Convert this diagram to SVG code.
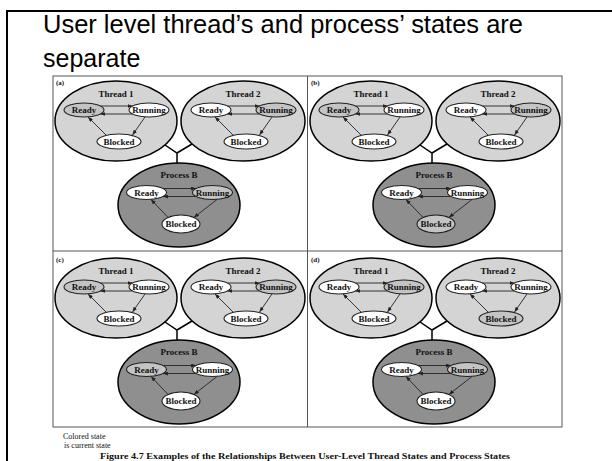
<svg xmlns="http://www.w3.org/2000/svg" width="612" height="461" viewBox="0 0 612 461">
<defs>
<marker id="ah" markerUnits="userSpaceOnUse" markerWidth="5" markerHeight="4" refX="5" refY="2" orient="auto"><path d="M0,0 L5,2 L0,4 z" fill="#222"/></marker>
<style>
.thread{fill:#d4d4d4;stroke:#000;stroke-width:1.5}
.proc{fill:#8f8f8f;stroke:#000;stroke-width:1.5}
.st{fill:#fff;stroke:#222;stroke-width:1.1}
.cur{fill:#c4c4c4;stroke:#222;stroke-width:1.1}
.lbl{font-family:"Liberation Serif","Times New Roman",serif;font-weight:bold;font-size:9px;text-anchor:middle;fill:#111}
.ttl{font-family:"Liberation Serif","Times New Roman",serif;font-weight:bold;font-size:9px;text-anchor:middle;fill:#111}
.pl{font-family:"Liberation Serif","Times New Roman",serif;font-weight:bold;font-size:7px;fill:#111}
.arr{stroke:#222;stroke-width:0.9;fill:none;marker-end:url(#ah)}
.link{stroke:#000;stroke-width:1.5;fill:none}
.title{font-family:"Liberation Sans",Arial,sans-serif;font-size:25px;fill:#000}
.cap{font-family:"Liberation Serif","Times New Roman",serif;font-size:8px;fill:#111}
.capb{font-family:"Liberation Serif","Times New Roman",serif;font-size:9px;font-weight:bold;fill:#111}
</style>
</defs>
<rect width="612" height="461" fill="#fff"/>
<path d="M7,461 V11 H612" fill="none" stroke="#000" stroke-width="2"/>
<text class="title" x="43" y="33" textLength="480" lengthAdjust="spacingAndGlyphs">User level thread’s and process’ states are</text>
<text class="title" x="43" y="67">separate</text>
<g id="frame" fill="none" stroke="#555" stroke-width="1">
<rect x="53" y="76" width="509" height="351" fill="#fff"/>
<path d="M307.5,76 V427 M53,251 H562"/>
</g>

<!-- Panel (a) -->
<g id="panel-a">
<text class="pl" x="56" y="85">(a)</text>
<g id="a-thread1"><ellipse class="thread" cx="116" cy="121" rx="61" ry="40"/><text class="ttl" x="116" y="97">Thread 1</text>
<ellipse class="cur" cx="84" cy="110" rx="20" ry="7"/><text class="lbl" x="84" y="113">Ready</text>
<ellipse class="st" cx="149" cy="110" rx="20" ry="7"/><text class="lbl" x="149" y="113">Running</text>
<ellipse class="st" cx="119" cy="141.5" rx="22" ry="7.5"/><text class="lbl" x="119" y="144.5">Blocked</text></g>
<g id="a-thread2"><ellipse class="thread" cx="243" cy="121" rx="62" ry="40"/><text class="ttl" x="243" y="97">Thread 2</text>
<ellipse class="st" cx="211" cy="110" rx="20" ry="7"/><text class="lbl" x="211" y="113">Ready</text>
<ellipse class="cur" cx="276" cy="110" rx="20" ry="7"/><text class="lbl" x="276" y="113">Running</text>
<ellipse class="st" cx="246" cy="141.5" rx="22" ry="7.5"/><text class="lbl" x="246" y="144.5">Blocked</text></g>
<g id="a-process"><ellipse class="proc" cx="179" cy="205" rx="61" ry="42"/><text class="ttl" x="179" y="178">Process B</text>
<ellipse class="st" cx="146.5" cy="192.5" rx="20" ry="7"/><text class="lbl" x="146.5" y="195.5">Ready</text>
<ellipse class="cur" cx="212.5" cy="192.5" rx="20" ry="7"/><text class="lbl" x="212.5" y="195.5">Running</text>
<ellipse class="st" cx="181" cy="224" rx="19" ry="9"/><text class="lbl" x="181" y="227">Blocked</text></g>
</g>

<!-- Panel (b) -->
<g id="panel-b" transform="translate(255,0)">
<text class="pl" x="56" y="85">(b)</text>
<g id="b-thread1"><ellipse class="thread" cx="116" cy="121" rx="61" ry="40"/><text class="ttl" x="116" y="97">Thread 1</text>
<ellipse class="cur" cx="84" cy="110" rx="20" ry="7"/><text class="lbl" x="84" y="113">Ready</text>
<ellipse class="st" cx="149" cy="110" rx="20" ry="7"/><text class="lbl" x="149" y="113">Running</text>
<ellipse class="st" cx="119" cy="141.5" rx="22" ry="7.5"/><text class="lbl" x="119" y="144.5">Blocked</text></g>
<g id="b-thread2"><ellipse class="thread" cx="243" cy="121" rx="62" ry="40"/><text class="ttl" x="243" y="97">Thread 2</text>
<ellipse class="st" cx="211" cy="110" rx="20" ry="7"/><text class="lbl" x="211" y="113">Ready</text>
<ellipse class="cur" cx="276" cy="110" rx="20" ry="7"/><text class="lbl" x="276" y="113">Running</text>
<ellipse class="st" cx="246" cy="141.5" rx="22" ry="7.5"/><text class="lbl" x="246" y="144.5">Blocked</text></g>
<g id="b-process"><ellipse class="proc" cx="179" cy="205" rx="61" ry="42"/><text class="ttl" x="179" y="178">Process B</text>
<ellipse class="st" cx="146.5" cy="192.5" rx="20" ry="7"/><text class="lbl" x="146.5" y="195.5">Ready</text>
<ellipse class="st" cx="212.5" cy="192.5" rx="20" ry="7"/><text class="lbl" x="212.5" y="195.5">Running</text>
<ellipse class="cur" cx="181" cy="224" rx="19" ry="9"/><text class="lbl" x="181" y="227">Blocked</text></g>
</g>

<!-- Panel (c) -->
<g id="panel-c" transform="translate(0,177)">
<text class="pl" x="56" y="85">(c)</text>
<g id="c-thread1"><ellipse class="thread" cx="116" cy="121" rx="61" ry="40"/><text class="ttl" x="116" y="97">Thread 1</text>
<ellipse class="cur" cx="84" cy="110" rx="20" ry="7"/><text class="lbl" x="84" y="113">Ready</text>
<ellipse class="st" cx="149" cy="110" rx="20" ry="7"/><text class="lbl" x="149" y="113">Running</text>
<ellipse class="st" cx="119" cy="141.5" rx="22" ry="7.5"/><text class="lbl" x="119" y="144.5">Blocked</text></g>
<g id="c-thread2"><ellipse class="thread" cx="243" cy="121" rx="62" ry="40"/><text class="ttl" x="243" y="97">Thread 2</text>
<ellipse class="st" cx="211" cy="110" rx="20" ry="7"/><text class="lbl" x="211" y="113">Ready</text>
<ellipse class="cur" cx="276" cy="110" rx="20" ry="7"/><text class="lbl" x="276" y="113">Running</text>
<ellipse class="st" cx="246" cy="141.5" rx="22" ry="7.5"/><text class="lbl" x="246" y="144.5">Blocked</text></g>
<g id="c-process"><ellipse class="proc" cx="179" cy="205" rx="61" ry="42"/><text class="ttl" x="179" y="178">Process B</text>
<ellipse class="cur" cx="146.5" cy="192.5" rx="20" ry="7"/><text class="lbl" x="146.5" y="195.5">Ready</text>
<ellipse class="st" cx="212.5" cy="192.5" rx="20" ry="7"/><text class="lbl" x="212.5" y="195.5">Running</text>
<ellipse class="st" cx="181" cy="224" rx="19" ry="9"/><text class="lbl" x="181" y="227">Blocked</text></g>
</g>

<!-- Panel (d) -->
<g id="panel-d" transform="translate(255,177)">
<text class="pl" x="56" y="85">(d)</text>
<g id="d-thread1"><ellipse class="thread" cx="116" cy="121" rx="61" ry="40"/><text class="ttl" x="116" y="97">Thread 1</text>
<ellipse class="st" cx="84" cy="110" rx="20" ry="7"/><text class="lbl" x="84" y="113">Ready</text>
<ellipse class="cur" cx="149" cy="110" rx="20" ry="7"/><text class="lbl" x="149" y="113">Running</text>
<ellipse class="st" cx="119" cy="141.5" rx="22" ry="7.5"/><text class="lbl" x="119" y="144.5">Blocked</text></g>
<g id="d-thread2"><ellipse class="thread" cx="243" cy="121" rx="62" ry="40"/><text class="ttl" x="243" y="97">Thread 2</text>
<ellipse class="st" cx="211" cy="110" rx="20" ry="7"/><text class="lbl" x="211" y="113">Ready</text>
<ellipse class="st" cx="276" cy="110" rx="20" ry="7"/><text class="lbl" x="276" y="113">Running</text>
<ellipse class="cur" cx="246" cy="141.5" rx="22" ry="7.5"/><text class="lbl" x="246" y="144.5">Blocked</text></g>
<g id="d-process"><ellipse class="proc" cx="179" cy="205" rx="61" ry="42"/><text class="ttl" x="179" y="178">Process B</text>
<ellipse class="st" cx="146.5" cy="192.5" rx="20" ry="7"/><text class="lbl" x="146.5" y="195.5">Ready</text>
<ellipse class="cur" cx="212.5" cy="192.5" rx="20" ry="7"/><text class="lbl" x="212.5" y="195.5">Running</text>
<ellipse class="st" cx="181" cy="224" rx="19" ry="9"/><text class="lbl" x="181" y="227">Blocked</text></g>
</g>

<!-- Connectors -->
<g id="connectors">
<g id="conn-a">
<path class="link" d="M165,145 L177,153 L192,144 M177,153 L177,163"/>
<path class="arr" d="M100.4,106 L132.6,106"/><path class="arr" d="M132.6,114 L100.4,114"/>
<path class="arr" d="M145,117 L132.5,135"/><path class="arr" d="M106,135 L88,117"/>
<path class="arr" d="M227.4,106 L259.6,106"/><path class="arr" d="M259.6,114 L227.4,114"/>
<path class="arr" d="M272,117 L259.5,135"/><path class="arr" d="M233,135 L215,117"/>
<path class="arr" d="M162.9,188.5 L196.1,188.5"/><path class="arr" d="M196.1,196.5 L162.9,196.5"/>
<path class="arr" d="M217,199.5 L194,217.4"/><path class="arr" d="M168,217.4 L151,199.5"/>
</g>
<g id="conn-b" transform="translate(255,0)">
<path class="link" d="M165,145 L177,153 L192,144 M177,153 L177,163"/>
<path class="arr" d="M100.4,106 L132.6,106"/><path class="arr" d="M132.6,114 L100.4,114"/>
<path class="arr" d="M145,117 L132.5,135"/><path class="arr" d="M106,135 L88,117"/>
<path class="arr" d="M227.4,106 L259.6,106"/><path class="arr" d="M259.6,114 L227.4,114"/>
<path class="arr" d="M272,117 L259.5,135"/><path class="arr" d="M233,135 L215,117"/>
<path class="arr" d="M162.9,188.5 L196.1,188.5"/><path class="arr" d="M196.1,196.5 L162.9,196.5"/>
<path class="arr" d="M217,199.5 L194,217.4"/><path class="arr" d="M168,217.4 L151,199.5"/>
</g>
<g id="conn-c" transform="translate(0,177)">
<path class="link" d="M165,145 L177,153 L192,144 M177,153 L177,163"/>
<path class="arr" d="M100.4,106 L132.6,106"/><path class="arr" d="M132.6,114 L100.4,114"/>
<path class="arr" d="M145,117 L132.5,135"/><path class="arr" d="M106,135 L88,117"/>
<path class="arr" d="M227.4,106 L259.6,106"/><path class="arr" d="M259.6,114 L227.4,114"/>
<path class="arr" d="M272,117 L259.5,135"/><path class="arr" d="M233,135 L215,117"/>
<path class="arr" d="M162.9,188.5 L196.1,188.5"/><path class="arr" d="M196.1,196.5 L162.9,196.5"/>
<path class="arr" d="M217,199.5 L194,217.4"/><path class="arr" d="M168,217.4 L151,199.5"/>
</g>
<g id="conn-d" transform="translate(255,177)">
<path class="link" d="M165,145 L177,153 L192,144 M177,153 L177,163"/>
<path class="arr" d="M100.4,106 L132.6,106"/><path class="arr" d="M132.6,114 L100.4,114"/>
<path class="arr" d="M145,117 L132.5,135"/><path class="arr" d="M106,135 L88,117"/>
<path class="arr" d="M227.4,106 L259.6,106"/><path class="arr" d="M259.6,114 L227.4,114"/>
<path class="arr" d="M272,117 L259.5,135"/><path class="arr" d="M233,135 L215,117"/>
<path class="arr" d="M162.9,188.5 L196.1,188.5"/><path class="arr" d="M196.1,196.5 L162.9,196.5"/>
<path class="arr" d="M217,199.5 L194,217.4"/><path class="arr" d="M168,217.4 L151,199.5"/>
</g>
</g>

<text class="cap" x="63" y="439">Colored state</text>
<text class="cap" x="64" y="448">is current state</text>
<text class="capb" x="100" y="459" textLength="410" lengthAdjust="spacingAndGlyphs">Figure 4.7   Examples of the Relationships Between User-Level Thread States and Process States</text>
</svg>
